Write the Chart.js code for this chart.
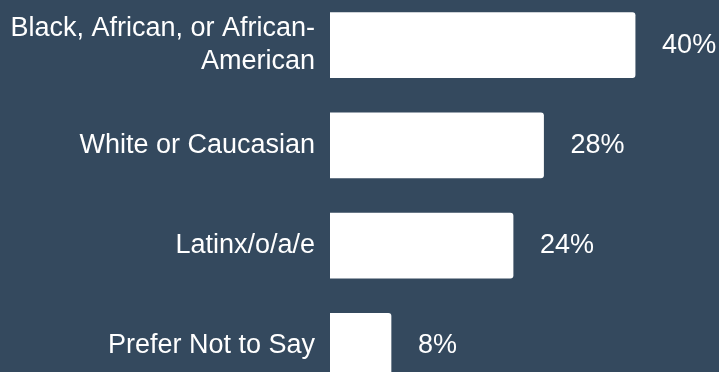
<!DOCTYPE html>
<html>
<head>
<meta charset="utf-8">
<script src="https://cdn.jsdelivr.net/npm/chart.js@4.4.0/dist/chart.umd.min.js"></script>
<style>
  html, body {
    margin: 0;
    padding: 0;
    width: 719px;
    height: 372px;
    overflow: hidden;
    background: #34495e;
  }
  #wrap {
    position: absolute;
    left: 0;
    top: -5px;
    width: 719px;
    height: 401px;
  }
</style>
</head>
<body>
<div id="wrap"><canvas id="chart"></canvas></div>
<script>
const categories = [
  ['Black, African, or African-', 'American'],
  'White or Caucasian',
  'Latinx/o/a/e',
  'Prefer Not to Say'
];
const percentages = [40, 28, 24, 8];

const FONT = '"Liberation Sans", Arial, sans-serif';

// writes "NN%" to the right of each bar
const valueLabels = {
  id: 'valueLabels',
  afterDatasetsDraw(chart) {
    const ctx = chart.ctx;
    const meta = chart.getDatasetMeta(0);
    ctx.save();
    ctx.fillStyle = '#ffffff';
    ctx.font = '27px ' + FONT;
    ctx.textAlign = 'left';
    ctx.textBaseline = 'middle';
    meta.data.forEach((bar, i) => {
      ctx.fillText(percentages[i] + '%', bar.x + 27, bar.y);
    });
    ctx.restore();
  }
};

new Chart(document.getElementById('chart').getContext('2d'), {
  type: 'bar',
  data: {
    labels: categories,
    datasets: [{
      data: percentages,
      backgroundColor: '#ffffff',
      borderWidth: 0,
      borderRadius: { topRight: 3, bottomRight: 3 },
      borderSkipped: false,
      barThickness: 65
    }]
  },
  options: {
    indexAxis: 'y',
    responsive: true,
    maintainAspectRatio: false,
    animation: false,
    layout: { padding: 0 },
    scales: {
      x: {
        display: false,
        min: 0,
        max: 51
      },
      y: {
        grid: { display: false, drawTicks: false },
        border: { display: false },
        afterFit(scale) {
          // fixed label column, no extra room above/below for tall labels
          scale.width = 330;
          scale.paddingTop = 0;
          scale.paddingBottom = 0;
        },
        ticks: {
          color: '#ffffff',
          padding: 15,
          font: { family: FONT, size: 27, lineHeight: 1.25 }
        }
      }
    },
    plugins: {
      legend: { display: false },
      tooltip: { enabled: false }
    }
  },
  plugins: [valueLabels]
});
</script>
</body>
</html>
